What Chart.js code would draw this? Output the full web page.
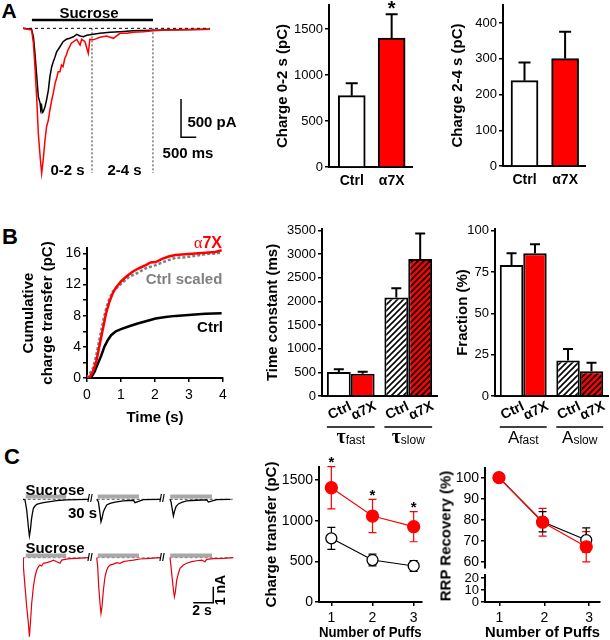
<!DOCTYPE html>
<html>
<head>
<meta charset="utf-8">
<script src="https://cdn.jsdelivr.net/npm/chart.js@4.4.1/dist/chart.umd.min.js"></script>
<style>
  body { margin: 0; background: #fff; width: 610px; height: 640px; position: relative; overflow: hidden;
         font-family: "Liberation Sans", Arial, sans-serif; }
  canvas { position: absolute; }
  .t { position: absolute; white-space: nowrap; transform: translate(-50%, -50%); line-height: 1; color: #000; }
</style>
</head>
<body>
<canvas id="traceA"></canvas>
<canvas id="q02"></canvas>
<canvas id="q24"></canvas>
<canvas id="cum"></canvas>
<canvas id="tau"></canvas>
<canvas id="frac"></canvas>
<canvas id="traceCtrl"></canvas>
<canvas id="traceA7x"></canvas>
<canvas id="puffQ"></canvas>
<canvas id="rrpHi"></canvas>
<canvas id="rrpLo"></canvas>
<script>
// ---- A: sample currents, time (s) from sucrose onset, current (pA)
const aCtrlTrace = [[-0.27,0],[0.02,-13],[0.08,-110],[0.13,-326],[0.19,-631],[0.24,-892],[0.30,-978],[0.32,-1060],
  [0.35,-1022],[0.37,-1100],[0.40,-1088],[0.46,-1022],[0.51,-935],[0.57,-805],[0.62,-631],[0.68,-500],[0.73,-436],
  [0.79,-370],[0.84,-305],[0.95,-240],[1.05,-175],[1.16,-143],[1.27,-130],[1.39,-110],[1.50,-78],[1.61,-100],
  [1.72,-110],[1.83,-91],[2.04,-78],[2.26,-65],[2.59,-52],[2.92,-44],[3.35,-31],[4.0,-25],[4.6,-20],[5.2,-15],[5.87,-12]];
const aA7xTrace = [[-0.27,0],[0.02,-22],[0.08,-196],[0.13,-500],[0.19,-935],[0.24,-1369],[0.30,-1674],[0.35,-1890],
  [0.40,-1717],[0.46,-1456],[0.51,-1283],[0.57,-1196],[0.62,-1065],[0.68,-935],[0.73,-848],[0.79,-717],[0.84,-652],
  [0.89,-566],[0.95,-566],[1.00,-479],[1.05,-500],[1.11,-391],[1.16,-348],[1.21,-283],[1.27,-240],[1.32,-196],
  [1.39,-175],[1.50,-143],[1.61,-218],[1.66,-143],[1.77,-175],[1.88,-326],[1.93,-143],[2.04,-150],[2.26,-117],
  [2.48,-100],[2.70,-130],[2.92,-65],[3.14,-65],[3.35,-52],[3.68,-44],[4.01,-31],[4.45,-22],[5.10,-17],[5.87,-13]];
const aSucrose = [0.03, 4.0];
const aWindows = [2, 4];
const aScaleBar = [[4.92,-922],[4.92,-1422],[5.42,-1422]];

// ---- A: charge (pC)
const groups = ['Ctrl', 'α7X'];
const charge02 = [775, 1400];
const charge02Sem = [135, 260];
const charge24 = [239, 301];
const charge24Sem = [51, 75];

// ---- B: cumulative charge transfer (pC) vs time (s)
const cumCtrl = [[0,0],[0.13,0.13],[0.22,0.77],[0.32,1.85],[0.42,2.9],[0.51,4.0],[0.61,4.85],[0.71,5.5],[0.85,6.0],
  [1.0,6.27],[1.24,6.65],[1.49,7.0],[1.73,7.3],[2.02,7.64],[2.31,7.85],[2.6,7.98],[2.89,8.07],[3.18,8.15],[3.48,8.24],[3.96,8.33]];
const cumA7x = [[0,0],[0.08,0.13],[0.17,0.77],[0.27,2.06],[0.37,4.2],[0.47,6.35],[0.56,8.3],[0.66,9.8],[0.76,10.9],
  [0.85,11.6],[1.0,12.4],[1.15,13.0],[1.34,13.65],[1.53,14.1],[1.73,14.5],[1.87,14.85],[2.02,14.9],[2.21,15.3],
  [2.4,15.6],[2.6,15.8],[2.89,15.9],[3.18,16.0],[3.48,16.1],[3.77,16.2],[3.96,16.4]];
const cumScaled = [[0,0],[0.17,1.2],[0.27,2.9],[0.37,5.06],[0.47,7.2],[0.56,8.9],[0.66,10.2],[0.76,11.1],[1.0,12.1],
  [1.24,13.0],[1.49,13.5],[1.73,14.1],[2.02,14.5],[2.31,15.0],[2.6,15.45],[2.89,15.5],[3.18,15.7],[3.48,15.9],[3.77,16.0],[3.96,16.1]];

// ---- B: kinetics
const kinGroups = ['fast', 'slow'];
const tauCtrl = [505, 2081];
const tauCtrlSem = [60, 199];
const tauA7x = [470, 2894];
const tauA7xSem = [40, 542];
const fracCtrl = [79.3, 21.4];
const fracCtrlSem = [7.0, 7.0];
const fracA7x = [86.3, 14.9];
const fracA7xSem = [5.5, 5.2];

// ---- C: three puffs, time (s, 30 s gaps cut), current (nA)
const cCtrl1 = [[0,0],[0.23,-0.04],[0.4,-0.67],[0.5,-1.29],[0.6,-1.92],[0.67,-2.29],[0.77,-1.92],[0.87,-1.29],[0.97,-0.88],
  [1.07,-0.56],[1.23,-0.42],[1.4,-0.31],[1.73,-0.25],[2.07,-0.21],[2.73,-0.15],[3.4,-0.08],[4.4,-0.04],[5.4,-0.02],[6.57,0]];
const cCtrl2 = [[7.4,0],[7.57,-0.15],[7.73,-0.88],[7.83,-1.40],[7.93,-1.19],[8.07,-0.77],[8.23,-0.56],[8.4,-0.35],
  [8.73,-0.25],[9.23,-0.17],[10.07,-0.10],[11.07,-0.06],[11.23,-0.21],[12.07,-0.02],[13.73,0]];
const cCtrl3 = [[14.73,0],[14.83,-0.15],[14.97,-0.67],[15.07,-1.04],[15.17,-0.77],[15.33,-0.46],[15.57,-0.29],[15.9,-0.19],
  [16.4,-0.10],[17.4,-0.06],[18.4,-0.04],[18.57,-0.17],[19.4,-0.02],[20.73,0]];
const cA7x1 = [[0,0],[0.07,-0.56],[0.23,-1.81],[0.4,-3.06],[0.57,-4.10],[0.67,-4.94],[0.77,-4.10],[0.9,-2.85],[1.07,-1.81],
  [1.23,-1.19],[1.4,-0.77],[1.57,-0.56],[1.73,-0.46],[1.9,-0.52],[2.07,-0.35],[2.4,-0.31],[2.73,-0.25],[3.07,-0.15],
  [3.4,-0.25],[3.73,-0.35],[3.9,-0.15],[4.23,-0.10],[4.73,-0.06],[5.4,-0.04],[6.57,0]];
const cA7x2 = [[7.4,0],[7.5,-0.56],[7.6,-1.81],[7.73,-2.85],[7.83,-3.48],[7.93,-3.06],[8.07,-2.02],[8.23,-1.19],[8.4,-0.77],
  [8.57,-0.56],[8.73,-0.46],[9.07,-0.40],[9.4,-0.31],[9.73,-0.35],[10.07,-0.25],[10.57,-0.19],[11.07,-0.15],[11.73,-0.08],
  [12.73,-0.04],[13.73,0]];
const cA7x3 = [[14.73,0],[14.83,-0.56],[14.97,-1.40],[15.07,-2.02],[15.17,-2.44],[15.27,-2.13],[15.4,-1.40],[15.57,-0.98],
  [15.73,-0.67],[16.07,-0.46],[16.4,-0.35],[16.9,-0.25],[17.4,-0.19],[17.9,-0.15],[18.23,-0.25],[18.4,-0.10],[19.07,-0.06],
  [20.07,-0.04],[21.07,0]];
const cPuffs = [[0.3, 4.35], [7.5, 11.63], [14.75, 18.93]];
const cSegs = [[0, 6.6], [7.4, 13.75], [14.7, 21.1]];
const cScaleBar = [[17.06,-2.81],[19.06,-2.81],[19.06,-1.81]];

// ---- C: summary vs puff number
const puffs = [1, 2, 3];
const chargeCtrl = [783, 516, 443];
const chargeCtrlSem = [135, 72, 67];
const chargeA7x = [1405, 1057, 926];
const chargeA7xSem = [260, 205, 185];
const rrpCtrl = [100, 79, 70.3];
const rrpCtrlSem = [0, 4.8, 5.8];
const rrpA7x = [100, 78.8, 67.1];
const rrpA7xSem = [0, 6.6, 7.2];

// ---------------------------------------------------------------
Chart.defaults.font.family = '"Liberation Sans", Arial, sans-serif';
Chart.defaults.color = '#000';
const RED = '#ff0000';

const pts = arr => arr.map(([x, y]) => ({ x, y }));
const plus = (v, e) => v.map((a, i) => a + e[i]);
const minus = (v, e) => v.map((a, i) => a - e[i]);

function hatch(bg) {
  const s = 6, c = document.createElement('canvas');
  c.width = c.height = s;
  const g = c.getContext('2d');
  g.fillStyle = bg; g.fillRect(0, 0, s, s);
  g.strokeStyle = '#000'; g.lineWidth = 1.6;
  g.beginPath();
  g.moveTo(-1, s + 1); g.lineTo(s + 1, -1);
  g.moveTo(-1, 1); g.lineTo(1, -1);
  g.moveTo(s - 1, s + 1); g.lineTo(s + 1, s - 1);
  g.stroke();
  return g.createPattern(c, 'repeat');
}

// error bars (+ optional stars) drawn from the dataset's own scale
const errorBars = {
  id: 'errorBars',
  beforeDatasetsDraw(chart) {
    const ctx = chart.ctx;
    chart.data.datasets.forEach((ds, i) => {
      if (!ds.hi) return;
      const meta = chart.getDatasetMeta(i);
      const ys = chart.scales[meta.yAxisID];
      ctx.save();
      ctx.strokeStyle = ds.errColor || '#000';
      ctx.lineWidth = ds.errWidth || 1.5;
      meta.data.forEach((el, j) => {
        const top = ys.getPixelForValue(ds.hi[j]);
        const bot = ds.lo ? ys.getPixelForValue(ds.lo[j]) : el.y;
        const w = ds.capW / 2;
        ctx.beginPath();
        ctx.moveTo(el.x, bot); ctx.lineTo(el.x, top);
        ctx.moveTo(el.x - w, top); ctx.lineTo(el.x + w, top);
        if (ds.lo) { ctx.moveTo(el.x - w, bot); ctx.lineTo(el.x + w, bot); }
        ctx.stroke();
        if (ds.stars && ds.stars[j]) {
          ctx.fillStyle = '#000';
          ctx.font = ds.starFont;
          ctx.textAlign = 'center';
          ctx.textBaseline = 'middle';
          ctx.fillText('*', el.x, top - ds.starGap);
        }
      });
      ctx.restore();
    });
  }
};

// rotated per-bar names, group bracket and group label (τfast etc.)
const groupLabels = {
  id: 'groupLabels',
  afterDraw(chart, args, opts) {
    if (!opts || !opts.groups) return;
    const ctx = chart.ctx, base = chart.chartArea.bottom;
    const metas = chart.data.datasets.map((d, i) => chart.getDatasetMeta(i));
    ctx.save();
    ctx.fillStyle = '#000';
    ctx.textBaseline = 'middle';
    metas.forEach((m, i) => m.data.forEach(el => {
      ctx.save();
      ctx.translate(el.x + 1, base + 15);
      ctx.rotate(-25 * Math.PI / 180);
      ctx.font = 'bold 14px "Liberation Sans"';
      ctx.textAlign = 'center';
      ctx.fillText(chart.data.datasets[i].label, 0, 0);
      ctx.restore();
    }));
    opts.groups.forEach((g, j) => {
      const a = metas[0].data[j], b = metas[metas.length - 1].data[j];
      const x0 = a.x - a.width / 2, x1 = b.x + b.width / 2;
      ctx.strokeStyle = '#000'; ctx.lineWidth = 1.5;
      ctx.beginPath(); ctx.moveTo(x0, base + 31); ctx.lineTo(x1, base + 31); ctx.stroke();
      ctx.font = opts.mainFont; const w1 = ctx.measureText(g[0]).width;
      ctx.font = '12px "Liberation Sans"'; const w2 = ctx.measureText(g[1]).width;
      const x = (x0 + x1) / 2 - (w1 + w2) / 2;
      ctx.textAlign = 'left';
      ctx.font = opts.mainFont; ctx.fillText(g[0], x, base + 42);
      ctx.font = '12px "Liberation Sans"'; ctx.fillText(g[1], x + w1, base + 45);
    });
    ctx.restore();
  }
};

function mount(id, g, type, data, scales, pluginOpts) {
  const c = document.getElementById(id);
  const padB = g.padB || 0;
  c.width = g.R - g.L + g.yW + g.padR;
  c.height = g.B - g.T + g.padT + g.xH + padB;
  c.style.left = (g.L - g.yW) + 'px';
  c.style.top = (g.T - g.padT) + 'px';
  if (scales.y.display !== false) scales.y.afterFit = s => { s.width = g.yW; };
  if (scales.x.display !== false) scales.x.afterFit = s => { s.height = g.xH; };
  return new Chart(c, {
    type, data,
    options: {
      responsive: false, animation: false, devicePixelRatio: 1,
      layout: { padding: { top: g.padT, right: g.padR, left: 0, bottom: padB } },
      plugins: Object.assign({ legend: { display: false }, tooltip: { enabled: false } }, pluginOpts || {}),
      scales
    },
    plugins: [errorBars, groupLabels]
  });
}

// tick values every `step` between min and max
function stepTicks(min, max, step) {
  const out = [];
  for (let k = Math.ceil(min / step - 1e-9); k * step <= max + 1e-9; k++) out.push({ value: +(k * step).toFixed(6) });
  return out;
}

function yAxis(min, max, step, title, size, labelEvery) {
  const ax = {
    type: 'linear', min, max,
    afterBuildTicks: s => { s.ticks = stepTicks(min, max, step); },
    ticks: { font: { size }, color: '#000', padding: 2, autoSkip: false },
    grid: { drawOnChartArea: false, drawTicks: true, tickLength: 4, color: '#000', lineWidth: 1.5 },
    border: { color: '#000', width: 2 },
    title: { display: !!title, text: title, color: '#000', padding: 0,
             font: { size: 15, weight: 'bold', lineHeight: Array.isArray(title) ? 1.27 : 1.2 } }
  };
  ax.ticks.callback = v => (labelEvery && Math.abs(v % labelEvery) > 1e-6 ? '' : String(v));
  return ax;
}

function xNumeric(min, max, values, title, labels) {
  return {
    type: 'linear', min, max, offset: false,
    afterBuildTicks: s => { s.ticks = values.map(v => ({ value: v })); },
    ticks: labels
      ? { callback: v => labels[v - 1], font: { size: 14, weight: 'bold' }, padding: 6, color: '#000', maxRotation: 0, autoSkip: false }
      : { callback: v => String(v), font: { size: 14 }, padding: 4, color: '#000', maxRotation: 0, autoSkip: false },
    grid: labels ? { display: false, drawTicks: false }
                 : { drawOnChartArea: false, drawTicks: true, tickLength: 4, color: '#000', lineWidth: 1.5 },
    border: { color: '#000', width: 2 },
    title: { display: !!title, text: title, color: '#000', padding: 0, font: { size: 15, weight: 'bold', lineHeight: 1.2 } }
  };
}

function line(points, color, width, extra) {
  return Object.assign({ data: points, borderColor: color, borderWidth: width, pointRadius: 0,
                         fill: false, tension: 0, spanGaps: false }, extra || {});
}

const hidden = (min, max) => ({ type: 'linear', display: false, min, max });

// ---------------- A: traces
mount('traceA', { L: 23, T: 10, R: 210, B: 180, yW: 0, xH: 0, padT: 0, padR: 0 }, 'line', {
  datasets: [
    line(pts(aA7xTrace), RED, 1.5, { order: 0 }),
    line(pts(aCtrlTrace), '#000', 1.5, { order: 1 }),
    line([{ x: -0.262, y: 0 }, { x: 5.87, y: 0 }], '#000', 1, { borderDash: [3, 3], order: 3 }),
    line([{ x: aSucrose[0], y: 108 }, { x: aSucrose[1], y: 108 }], '#000', 2.5, { order: 3 }),
    ...aWindows.map(t => line([{ x: t, y: 0 }, { x: t, y: -1887 }], '#333', 1, { borderDash: [2, 2], order: 3 })),
    line(pts(aScaleBar), '#000', 1.5, { order: 3 })
  ]
}, { x: hidden(-0.262, 5.87), y: hidden(-1978, 239) });

// ---------------- A: charge bars
function chargeBars(id, g, vals, sem, xmin, xmax, ymax, step, title, stars) {
  mount(id, g, 'bar', {
    datasets: [{
      data: vals.map((v, i) => ({ x: i + 1, y: v })),
      backgroundColor: ['#fff', RED], borderColor: '#000', borderWidth: 2, barThickness: 27,
      hi: plus(vals, sem), capW: 12, errWidth: 2, stars, starFont: 'bold 20px "Liberation Sans"', starGap: 5
    }]
  }, { x: xNumeric(xmin, xmax, [1, 2], null, groups), y: yAxis(0, ymax, step, title, 13) });
}
chargeBars('q02', { L: 329, T: 5, R: 412, B: 167, yW: 55, xH: 27, padT: 12, padR: 2 },
  charge02, charge02Sem, 0.43, 2.51, 1760, 500, 'Charge 0-2 s (pC)', [false, true]);
chargeBars('q24', { L: 503, T: 5, R: 585, B: 166, yW: 54, xH: 27, padT: 12, padR: 2 },
  charge24, charge24Sem, 0.47, 2.49, 451, 100, 'Charge 2-4 s (pC)', null);

// ---------------- B: cumulative charge
mount('cum', { L: 87, T: 248, R: 223, B: 378, yW: 68, xH: 49, padT: 12, padR: 10 }, 'line', {
  datasets: [
    line(pts(cumA7x), RED, 2.5, { order: 0 }),
    line(pts(cumScaled), '#808080', 2.5, { borderDash: [3, 2], order: 1 }),
    line(pts(cumCtrl), '#000', 2.5, { order: 2 })
  ]
}, {
  x: Object.assign(xNumeric(0, 4, [0, 1, 2, 3, 4], 'Time (s)'),
                   { ticks: { callback: v => String(v), font: { size: 14 }, padding: 5, color: '#000', maxRotation: 0, autoSkip: false } }),
  y: yAxis(0, 16.7, 2, ['Cumulative', 'charge transfer (pC)'], 14, 4)
});

// ---------------- B: kinetics bars
function kinBars(id, g, ctrl, ctrlSem, a7x, a7xSem, ymax, step, title, groupsOpt, mainFont) {
  const common = { borderColor: '#000', borderWidth: 2, categoryPercentage: 0.83, barPercentage: 1,
                   capW: 10, errWidth: 2 };
  mount(id, g, 'bar', {
    labels: kinGroups,
    datasets: [
      Object.assign({ label: 'Ctrl', data: ctrl, backgroundColor: ['#fff', hatch('#fff')], hi: plus(ctrl, ctrlSem) }, common),
      Object.assign({ label: 'α7X', data: a7x, backgroundColor: [RED, hatch(RED)], hi: plus(a7x, a7xSem) }, common)
    ]
  }, {
    x: { type: 'category', offset: true, ticks: { display: false }, grid: { display: false, drawTicks: false },
         border: { color: '#000', width: 2 } },
    y: yAxis(0, ymax, step, title, 13)
  }, { groupLabels: { groups: groupsOpt, mainFont } });
}
kinBars('tau', { L: 322, T: 229, R: 437, B: 396, yW: 58, xH: 56, padT: 12, padR: 2 },
  tauCtrl, tauCtrlSem, tauA7x, tauA7xSem, 3530, 500, 'Time constant (ms)',
  kinGroups.map(k => ['τ', k]), 'bold 20px "Liberation Serif"');
kinBars('frac', { L: 495, T: 229, R: 608, B: 396, yW: 41, xH: 56, padT: 12, padR: 2 },
  fracCtrl, fracCtrlSem, fracA7x, fracA7xSem, 101, 25, 'Fraction (%)',
  kinGroups.map(k => ['A', k]), '17px "Liberation Sans"');

// ---------------- C: traces
function puffTrace(id, g, traces, color, width, ymin, ymax, level, baseColor, scaleBar) {
  const ds = traces.map(tr => line(pts(tr), color, width, { order: 0 }));
  cPuffs.forEach(p => ds.push(line([{ x: p[0], y: level }, { x: p[1], y: level }], '#a8a8a8', 4, { order: 2 })));
  cSegs.forEach(s => ds.push(line([{ x: s[0], y: 0 }, { x: s[1], y: 0 }], baseColor, 1, { borderDash: [3, 2], order: 1 })));
  if (scaleBar) ds.push(line(pts(scaleBar), '#000', 1.5, { order: 0 }));
  mount(id, g, 'line', { datasets: ds }, { x: hidden(0.03, 21.73), y: hidden(ymin, ymax) });
}
puffTrace('traceCtrl', { L: 23, T: 485, R: 240, B: 545, yW: 0, xH: 0, padT: 0, padR: 0 },
  [cCtrl1, cCtrl2, cCtrl3], '#000', 1.3, -2.856, 0.894, 0.17, '#555', null);
puffTrace('traceA7x', { L: 23, T: 540, R: 240, B: 640, yW: 0, xH: 0, padT: 0, padR: 0 },
  [cA7x1, cA7x2, cA7x3], '#e3000f', 1.2, -5.144, 1.106, 0.13, '#888', cScaleBar);

// ---------------- C: charge per puff
function meanSeries(vals, sem, color, fill, radius, order, stars) {
  return {
    data: vals.map((v, i) => ({ x: puffs[i], y: v })),
    borderColor: color, borderWidth: 1.2, pointRadius: radius, pointBackgroundColor: fill,
    pointBorderColor: color, pointBorderWidth: 1.3, tension: 0, order,
    hi: plus(vals, sem), lo: minus(vals, sem), capW: 8, errWidth: 1.2, errColor: color,
    stars, starFont: 'bold 15px "Liberation Sans"', starGap: 4
  };
}
mount('puffQ', { L: 319, T: 467, R: 425, B: 602, yW: 56, xH: 40, padT: 14, padR: 4 }, 'line', {
  datasets: [
    meanSeries(chargeA7x, chargeA7xSem, RED, RED, 6, 0, [true, true, true]),
    meanSeries(chargeCtrl, chargeCtrlSem, '#000', '#fff', 5.5, 1, null)
  ]
}, { x: xNumeric(0.70, 3.195, puffs, 'Number of Puffs'), y: yAxis(0, 1660, 500, 'Charge transfer (pC)', 14) });

// ---------------- C: RRP recovery (broken axis: two stacked charts)
mount('rrpHi', { L: 485, T: 468, R: 600, B: 568, yW: 40, xH: 0, padT: 12, padR: 4, padB: 12 }, 'line', {
  datasets: [
    meanSeries(rrpA7x, rrpA7xSem, RED, RED, 6, 0, null),
    meanSeries(rrpCtrl, rrpCtrlSem, '#000', '#fff', 5.5, 1, null)
  ]
}, { x: hidden(0.68, 3.24), y: yAxis(57, 104.6, 10, null, 14) });
mount('rrpLo', { L: 485, T: 575, R: 600, B: 602, yW: 40, xH: 40, padT: 12, padR: 4 }, 'line', {
  datasets: []
}, { x: xNumeric(0.68, 3.24, puffs, 'Number of Puffs'), y: yAxis(0, 22.5, 10, null, 13) });

// ---------------- text
const SERIF_A = '<span style="font-family:\'Liberation Serif\';font-weight:normal">α</span>7X';
const notes = [
  ['A', 9, 10, 'bold 21px'],
  ['Sucrose', 89, 12, 'bold 15px'],
  ['0-2 s', 67.5, 169, 'bold 15px'],
  ['2-4 s', 124.5, 169, 'bold 15px'],
  ['500 pA', 212, 121, 'bold 15px'],
  ['500 ms', 188, 152, 'bold 15px'],
  ['B', 10, 237, 'bold 22px'],
  [SERIF_A, 208, 243, 'bold 16px', RED],
  ['Ctrl scaled', 184, 278, 'bold 15px', '#808080'],
  ['Ctrl', 210, 326, 'bold 15px'],
  ['C', 12, 457, 'bold 22px'],
  ['Sucrose', 55, 488.5, 'bold 15px'],
  ['30 s', 82.5, 512, 'bold 15px'],
  ['Sucrose', 55, 547, 'bold 15px'],
  ['//', 90, 499, 'bold 10px'],
  ['//', 162, 499, 'bold 10px'],
  ['//', 90, 558, 'bold 10px'],
  ['//', 162, 558, 'bold 10px'],
  ['2 s', 202, 610, 'bold 14px'],
  ['1 nA', 220, 590, 'bold 14px', '#000', -90],
  ['RRP Recovery (%)', 445, 536, 'bold 15px', '#000', -90]
];
notes.forEach(([txt, x, y, font, color, rot]) => {
  const d = document.createElement('div');
  d.className = 't';
  d.innerHTML = txt;
  d.style.left = x + 'px';
  d.style.top = y + 'px';
  d.style.font = font + ' "Liberation Sans", Arial, sans-serif';
  d.style.lineHeight = '1';
  if (color) d.style.color = color;
  if (rot) d.style.transform = 'translate(-50%, -50%) rotate(' + rot + 'deg)';
  document.body.appendChild(d);
});
</script>
</body>
</html>
